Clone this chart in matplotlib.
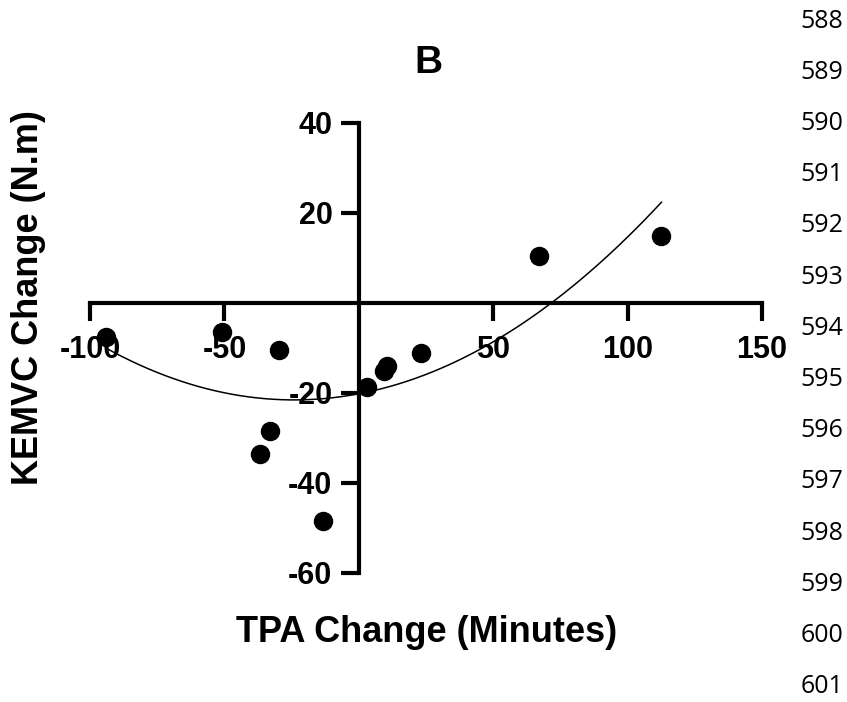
import numpy as np
import matplotlib.pyplot as plt

# TPA change (minutes) vs KEMVC change (N.m)
tpa = np.array([-94, -51, -29.7, -33, -36.8, -13.4, 3, 9.3, 10.6, 23, 67, 112.6])
kemvc = np.array([-7.6, -6.4, -10.4, -28.4, -33.6, -48.4, -18.7, -15.2, -14.0, -11.0, 10.4, 14.8])

xticks = [-100, -50, 50, 100, 150]
yticks = [-60, -40, -20, 20, 40]
line_numbers = list(range(588, 602))

plt.rcParams['font.family'] = ['Liberation Sans', 'DejaVu Sans']
plt.rcParams['axes.unicode_minus'] = False

fig = plt.figure(figsize=(8.47, 7.02), dpi=100)
ax = fig.add_axes([90/847, 1-573/702, (762-90)/847, (573-123)/702])

# second order fit through the points
coef = np.polyfit(tpa, kemvc, 2)
xx = np.linspace(tpa.min(), tpa.max(), 200)
ax.plot(xx, np.polyval(coef, xx), color='black', lw=1.1, zorder=3, clip_on=False)
ax.plot(tpa, kemvc, 'o', color='black', ms=13, zorder=4, clip_on=False)

ax.set_xlim(-100, 150)
ax.set_ylim(-60, 40)
ax.spines['left'].set_position(('data', 0))
ax.spines['bottom'].set_position(('data', 0))
ax.spines['right'].set_visible(False)
ax.spines['top'].set_visible(False)
for s in ['left', 'bottom']:
    ax.spines[s].set_linewidth(3)
ax.set_xticks(xticks)
ax.set_yticks(yticks)
ax.tick_params(axis='both', direction='out', length=13, width=3, labelsize=22)
ax.tick_params(axis='x', pad=10)
ax.tick_params(axis='y', pad=6)
for lab in ax.get_xticklabels() + ax.get_yticklabels():
    lab.set_fontweight('bold')

fig.text(428/847, 1-63/702, 'B', ha='center', va='center', fontsize=28, fontweight='bold')
fig.text(427/847, 1-633/702, 'TPA Change (Minutes)', ha='center', va='center',
         fontsize=26, fontweight='bold')
fig.text(29/847, 1-298/702, 'KEMVC Change (N.m)', ha='center', va='center',
         rotation=90, fontsize=26, fontweight='bold')

# document line numbers on the right
for i, n in enumerate(line_numbers):
    fig.text(822/847, 1-(21 + i*51.2)/702, str(n), ha='center', va='center',
             fontsize=18, family=['Open Sans', 'DejaVu Sans'])

fig.savefig('out.png', dpi=100)
